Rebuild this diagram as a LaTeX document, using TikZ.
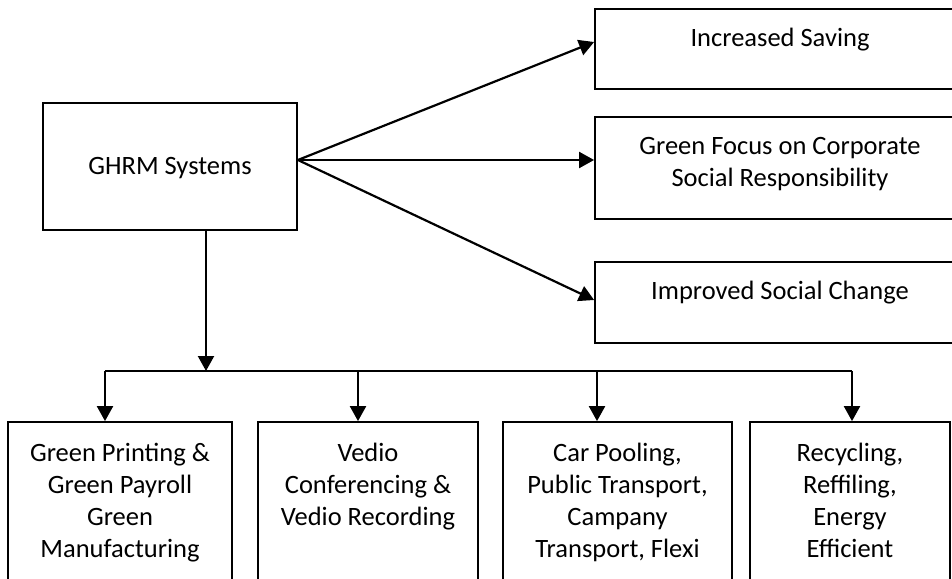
\documentclass[tikz,border=0pt]{standalone}
\usepackage{fontspec}
\setmainfont{Carlito}
\usetikzlibrary{arrows.meta}
\begin{document}
\begin{tikzpicture}[x=1pt,y=-1pt,
  box/.style={draw=black,line width=1.8pt,rectangle,inner sep=0pt},
  txt/.style={inner sep=0pt,align=center,font=\fontsize{26.5}{32}\selectfont},
  conn/.style={line width=2.2pt,-{Triangle[length=15pt,width=16pt]}},
  plain/.style={line width=2.2pt}]
\useasboundingbox (0,0) rectangle (952,578);
\clip (0,0) rectangle (952,578);
\fill[white] (0,0) rectangle (952,578);
% main box
\node[box,minimum width=254pt,minimum height=127pt] (g) at (170,166.5) {};
\node[txt] (gt) at (170,168) {GHRM Systems};
% right boxes
\node[box,minimum width=370pt,minimum height=80pt] (r1) at (780,49) {};
\node[box,minimum width=370pt,minimum height=102pt] (r2) at (780,168) {};
\node[box,minimum width=370pt,minimum height=81pt] (r3) at (780,302.5) {};
\node[txt,anchor=north] (r1t) at ([yshift=-19.5pt]r1.north) {Increased Saving};
\node[txt,anchor=north] (r2t) at ([yshift=-21.5pt]r2.north) {Green Focus on Corporate\\Social Responsibility};
\node[txt,anchor=north] (r3t) at ([yshift=-19.5pt]r3.north) {Improved Social Change};
% bottom boxes
\node[box,minimum width=224pt,minimum height=188pt] (b1) at (120,516) {};
\node[box,minimum width=220pt,minimum height=188pt] (b2) at (368,516) {};
\node[box,minimum width=229pt,minimum height=188pt] (b3) at (617.5,516) {};
\node[box,minimum width=200pt,minimum height=188pt] (b4) at (850,516) {};
\node[txt,anchor=north] (b1t) at ([yshift=-21.5pt]b1.north) {Green Printing \&\\Green Payroll\\Green\\Manufacturing};
\node[txt,anchor=north] (b2t) at ([yshift=-21.5pt]b2.north) {Vedio\\Conferencing \&\\Vedio Recording};
\node[txt,anchor=north] (b3t) at ([yshift=-21.5pt]b3.north) {Car Pooling,\\Public Transport,\\Campany\\Transport, Flexi};
\node[txt,anchor=north] (b4t) at ([yshift=-21.5pt]b4.north) {Recycling,\\Reffiling,\\Energy\\Efficient};
% connectors to the right
\coordinate (src) at ([yshift=6.5pt]g.east);
\draw[conn] (src) -- ([yshift=7pt]r1.west);
\draw[conn] (src) -- ([yshift=8pt]r2.west);
\draw[conn] (src) -- ([yshift=2.5pt]r3.west);
% connectors downward
\coordinate (j) at (206,371);
\coordinate (t1) at ([xshift=-15pt]b1.north);
\coordinate (t2) at ([xshift=-10pt]b2.north);
\coordinate (t3) at ([xshift=-20.5pt]b3.north);
\coordinate (t4) at ([xshift=2pt]b4.north);
\draw[conn] (g.south -| j) -- (j);
\draw[plain] (t1 |- j) -- (t4 |- j);
\draw[conn] (t1 |- j) -- (t1);
\draw[conn] (t2 |- j) -- (t2);
\draw[conn] (t3 |- j) -- (t3);
\draw[conn] (t4 |- j) -- (t4);
\end{tikzpicture}
\end{document}
